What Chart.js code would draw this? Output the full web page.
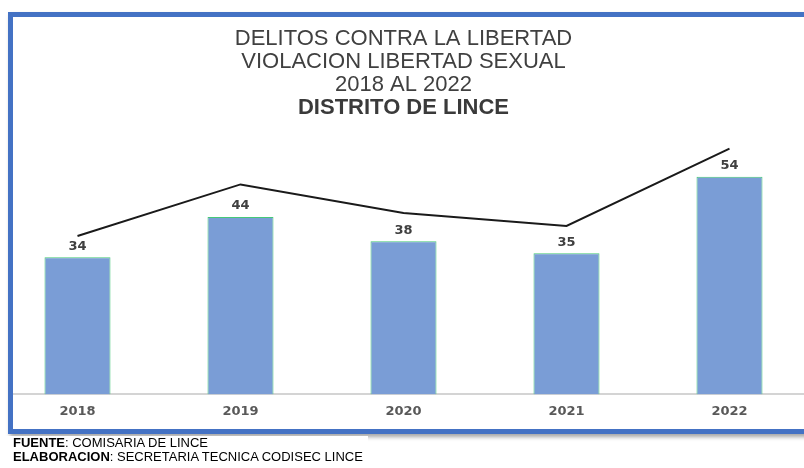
<!DOCTYPE html>
<html>
<head>
<meta charset="utf-8">
<script src="https://cdn.jsdelivr.net/npm/chart.js@4/dist/chart.umd.min.js"></script>
<style>
  html, body { margin: 0; padding: 0; background: #fff; overflow: hidden; width: 804px; height: 468px; }
  #wrap { position: absolute; left: -4px; top: 17px; width: 815px; height: 414px; clip-path: inset(0 0 0 17px); }
  #frame {
    position: absolute; left: 8px; top: 12px; width: 810px; height: 412px;
    border: 5px solid #4472c4; box-sizing: content-box; pointer-events: none;
    box-shadow: 2px 3px 4px rgba(0, 0, 0, .35);
  }
  #foot {
    position: absolute; left: 0; top: 436px; width: 368px; height: 32px; background: #fff;
    font-family: "Liberation Sans", Arial, sans-serif; font-size: 13px; line-height: 14px; color: #000;
    padding-left: 13px; box-sizing: border-box;
  }
</style>
</head>
<body>
<div id="wrap"><canvas id="chart"></canvas></div>
<div id="frame"></div>
<div id="foot"><b>FUENTE</b>: COMISARIA DE LINCE<br><b>ELABORACION</b>: SECRETARIA TECNICA CODISEC LINCE</div>
<script>
const years = ['2018', '2019', '2020', '2021', '2022'];
const cases = [34, 44, 38, 35, 54];
// black trend line sits above the bars
const trendLine = [39.3, 52.1, 45.0, 41.8, 61.0];
const titleLines = ['DELITOS CONTRA LA LIBERTAD', 'VIOLACION LIBERTAD SEXUAL', '2018 AL 2022'];
const subtitleText = 'DISTRITO DE LINCE';

const valueLabels = {
    id: 'valueLabels',
    afterDatasetsDraw: function (chart) {
        const ctx = chart.ctx;
        const meta = chart.getDatasetMeta(1);
        ctx.save();
        ctx.font = 'bold 13px "DejaVu Sans", sans-serif';
        ctx.fillStyle = '#404040';
        ctx.textAlign = 'center';
        ctx.textBaseline = 'middle';
        meta.data.forEach(function (bar, i) {
            ctx.fillText(String(cases[i]), bar.x, bar.y - 11);
        });
        ctx.restore();
    }
};

new Chart(document.getElementById('chart'), {
    type: 'bar',
    data: {
        labels: years,
        datasets: [
            {
                type: 'line',
                label: 'Tendencia',
                data: trendLine,
                borderColor: '#1a1a1a',
                borderWidth: 2,
                pointRadius: 0,
                tension: 0,
                fill: false,
                order: 0
            },
            {
                label: 'Casos',
                data: cases,
                backgroundColor: '#7a9dd6',
                borderColor: '#45c878',
                borderWidth: 1,
                categoryPercentage: 1,
                barPercentage: 0.405,
                order: 1
            }
        ]
    },
    options: {
        responsive: true,
        maintainAspectRatio: false,
        animation: false,
        layout: { padding: { top: 0, bottom: 3, left: 0, right: 0 } },
        plugins: {
            legend: { display: false },
            tooltip: { enabled: false },
            title: {
                display: true,
                text: titleLines,
                color: '#404040',
                font: { family: '"Liberation Sans", Arial, sans-serif', size: 22, weight: 'normal', lineHeight: 1.05 },
                padding: { top: 10, bottom: 0 }
            },
            subtitle: {
                display: true,
                text: subtitleText,
                color: '#3a3a3a',
                font: { family: '"Liberation Sans", Arial, sans-serif', size: 22, weight: 'bold', lineHeight: 1.05 },
                padding: { top: 0, bottom: 9 }
            }
        },
        scales: {
            x: {
                grid: { display: false, drawTicks: false },
                border: { display: true, color: '#d4d4d4', width: 2 },
                ticks: {
                    color: '#595959',
                    padding: 9,
                    font: { family: '"DejaVu Sans", sans-serif', size: 13, weight: 'bold' }
                }
            },
            y: {
                display: false,
                min: 0,
                max: 66
            }
        }
    },
    plugins: [valueLabels]
});
</script>
</body>
</html>
